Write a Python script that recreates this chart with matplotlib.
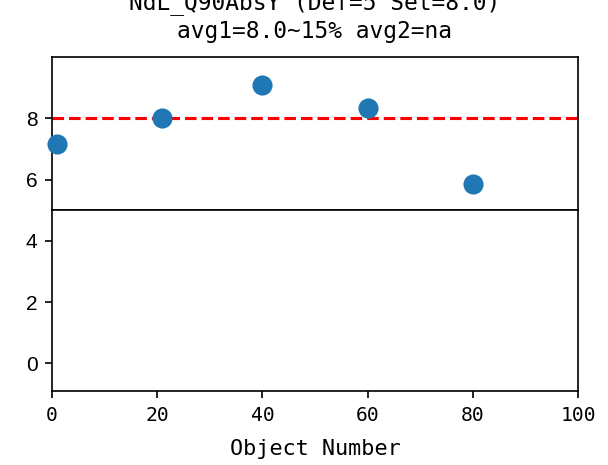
import matplotlib
matplotlib.use("Agg")
import matplotlib.pyplot as plt

# data
obj_num = [1, 21, 40, 60, 80]
q90_abs_y = [7.15, 8.0, 9.08, 8.33, 5.87]
set_value = 8.0

title_txt = "NdL_Q90AbsY (Def=5 Set=8.0)\navg1=8.0~15% avg2=na"
mono = "DejaVu Sans Mono"

fig = plt.figure(figsize=(609 / 150, 465 / 150), dpi=150)
gs = fig.add_gridspec(2, 1, height_ratios=[5, 5.9], hspace=0,
                      left=0.0854, right=0.949, bottom=0.159, top=0.877)
ax_top = fig.add_subplot(gs[0])
ax_bot = fig.add_subplot(gs[1], sharex=ax_top)

ax_top.scatter(obj_num, q90_abs_y, s=75, color="#1f77b4", zorder=3, clip_on=False)
ax_top.axhline(set_value, color="red", ls="--", lw=1.5)
ax_top.set_ylim(5, 10)
ax_top.set_yticks([6, 8])
ax_top.tick_params(axis="x", bottom=False, labelbottom=False)

ax_bot.set_ylim(-0.9, 5)
ax_bot.set_yticks([0, 2, 4])
ax_bot.set_xlim(0, 100)
ax_bot.set_xticks([0, 20, 40, 60, 80, 100])

for ax in (ax_top, ax_bot):
    for lab in ax.get_yticklabels():
        lab.set_fontsize(10)
        lab.set_family("Liberation Sans")

for lab in ax_bot.get_xticklabels():
    lab.set_fontsize(9.5)
    lab.set_family(mono)

ax_bot.set_xlabel("Object Number", fontsize=10.5, family=mono, labelpad=7)
ax_top.set_title(title_txt, fontsize=11, family=mono, pad=9, linespacing=1.3)

fig.savefig("out.png", dpi=150)
